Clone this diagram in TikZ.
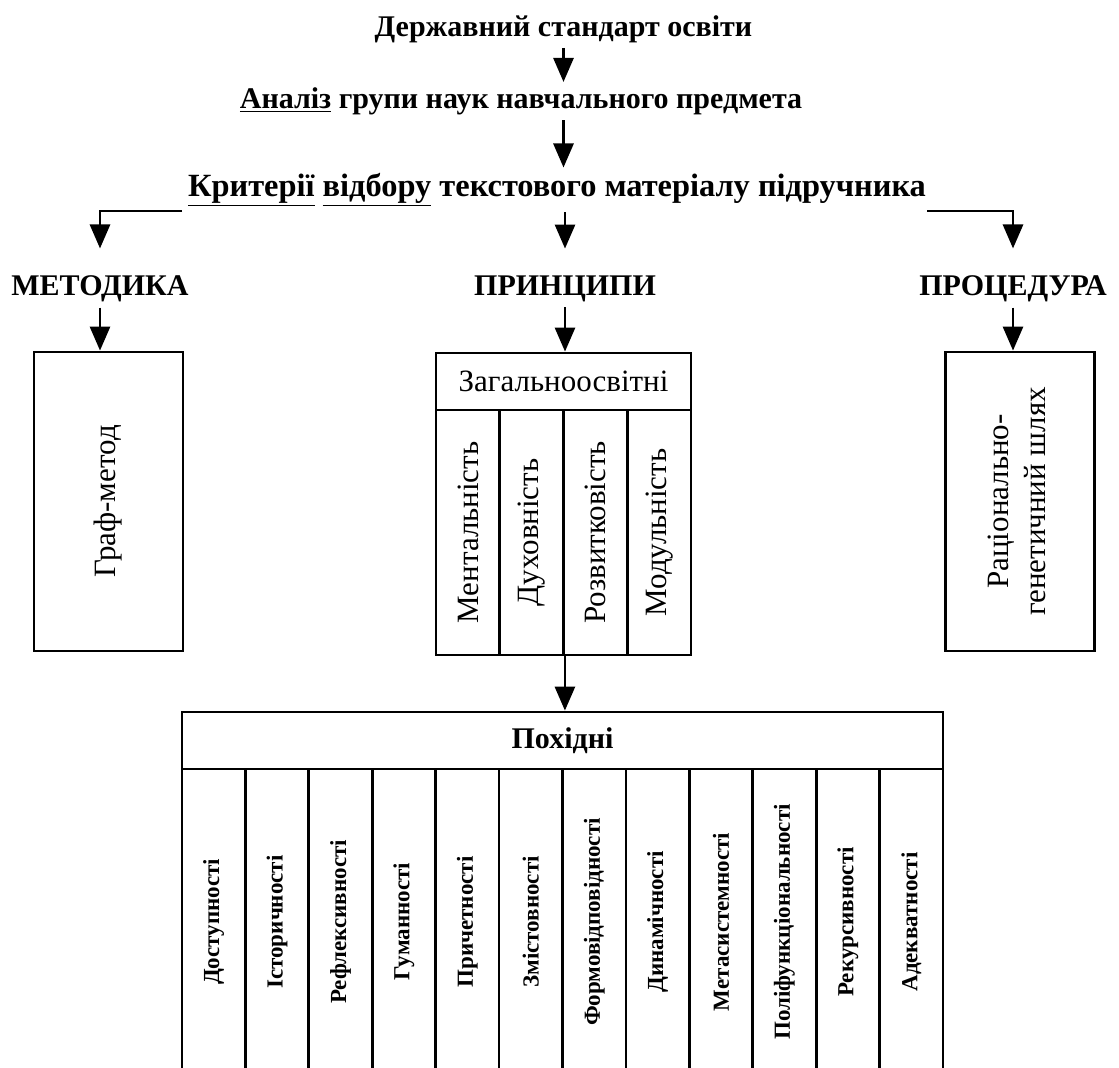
\documentclass[tikz,border=0pt]{standalone}
\usepackage{fontspec}
\usepackage{graphicx}
\setmainfont{Liberation Serif}
\usetikzlibrary{arrows.meta,positioning}

\begin{document}
\begin{tikzpicture}[x=0.5pt, y=-0.5pt, line width=1.4pt,
		head/.style = {font=\fontsize{15}{18}\selectfont\bfseries, inner sep=2pt},
		box/.style = {draw, minimum width=74.5pt, minimum height=149.5pt, inner sep=0pt, font=\fontsize{15.5}{18.5}\selectfont},
		cell/.style = {draw, minimum width=31.875pt, minimum height=122.5pt, inner sep=0pt, font=\fontsize{15.5}{18.5}\selectfont},
		col/.style = {draw, minimum width=31.71pt, minimum height=153pt, inner sep=0pt, font=\fontsize{11.5}{14}\selectfont\bfseries},
		arr/.style = {-{Triangle[width=10pt,length=12pt]}}]
	\useasboundingbox (0,0) rectangle (1119,1068);
	%Top part of graph
	\node[head] (1) at (563.5,29) {Державний стандарт освіти};
	\node[head] (2) at (521,101) {\underline{Аналіз} групи наук навчального предмета};
	\node[head, font=\fontsize{16.2}{19}\selectfont\bfseries] (3) at (557,190) {\underline{Критерії} \underline{відбору} текстового матеріалу підручника};
	\coordinate (kl) at (182,211);
	\coordinate (kr) at (927,211);
	\node[head] (4) at (100,289) {МЕТОДИКА};
	\node[head] (5) at (565,289) {ПРИНЦИПИ};
	\node[head] (6) at (1013,289) {ПРОЦЕДУРА};
	%Boxes below the three headings
	\node[box] (7) at (108.5,501.5) {\rotatebox{90}{Граф-метод}};
	\node[box] (9) at (1020,501.5) {\rotatebox{90}{\begin{tabular}{@{}c@{}}Раціонально-\\генетичний шлях\end{tabular}}};
	\node[cell, minimum width=127.5pt, minimum height=28.5pt] (8) at (563.5,381.5) {Загальноосвітні};
	\node[cell] (10) at (467.9,532.5) {\rotatebox{90}{Ментальність}};
	\node[cell] (11) [node distance=31.875pt, right of=10] {\rotatebox{90}{Духовність}};
	\node[cell] (12) [node distance=31.875pt, right of=11] {\rotatebox{90}{Розвитковість}};
	\node[cell] (13) [node distance=31.875pt, right of=12] {\rotatebox{90}{Модульність}};
	%Bottom part of graph
	\node[cell, minimum width=380.5pt, minimum height=28.5pt, font=\fontsize{15}{18}\selectfont\bfseries] (14) at (562.5,740.5) {Похідні};
	\node[col] (15) at (213.7,922) {\rotatebox{90}{Доступності}};
	\node[col] (16) [node distance=31.71pt, right of=15] {\rotatebox{90}{Історичності}};
	\node[col] (17) [node distance=31.71pt, right of=16] {\rotatebox{90}{Рефлексивності}};
	\node[col] (18) [node distance=31.71pt, right of=17] {\rotatebox{90}{Гуманності}};
	\node[col] (19) [node distance=31.71pt, right of=18] {\rotatebox{90}{Причетності}};
	\node[col] (20) [node distance=31.71pt, right of=19] {\rotatebox{90}{Змістовності}};
	\node[col] (21) [node distance=31.71pt, right of=20] {\rotatebox{90}{Формовідповідності}};
	\node[col] (22) [node distance=31.71pt, right of=21] {\rotatebox{90}{Динамічності}};
	\node[col] (23) [node distance=31.71pt, right of=22] {\rotatebox{90}{Метасистемності}};
	\node[col] (24) [node distance=31.71pt, right of=23] {\rotatebox{90}{Поліфункціональності}};
	\node[col] (25) [node distance=31.71pt, right of=24] {\rotatebox{90}{Рекурсивності}};
	\node[col] (26) [node distance=31.71pt, right of=25] {\rotatebox{90}{Адекватності}};

	%Edges with direction
	\draw[arr] (1.south) -- (1.south |- 2.north); %Standard -> analysis
	\draw[arr] (2.south -| 1.south) -- (1.south |- 3.north); %Analysis -> criteria
	\draw[arr, shorten >=11pt] (kl) -| (4); %Criteria -> method
	\draw[arr, shorten >=11pt] (3.south -| 5) -- (5); %Criteria -> principles
	\draw[arr, shorten >=11pt] (kr) -| (6); %Criteria -> procedure
	\draw[arr] (4.south) -- (4.south |- 7.north); %Method -> box
	\draw[arr] (5.south) -- (5.south |- 8.north); %Principles -> box
	\draw[arr] (6.south) -- (6.south |- 9.north); %Procedure -> box
	\draw[arr] (11.south east) -- (11.south east |- 14.north); %Principles -> derived
\end{tikzpicture}
\end{document}
